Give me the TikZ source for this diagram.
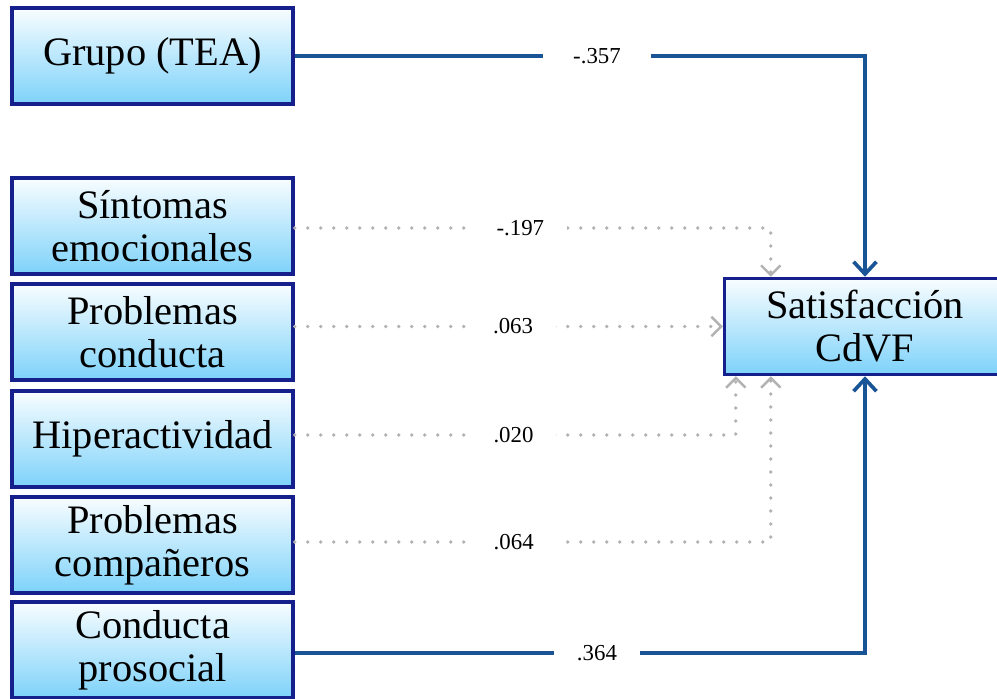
\documentclass[tikz,border=0pt]{standalone}
\usepackage{fontspec}
\setmainfont{Liberation Serif}
\usetikzlibrary{arrows.meta}

\definecolor{marco}{RGB}{22,32,140}
\definecolor{azul}{RGB}{24,84,150}
\definecolor{celeste}{RGB}{125,210,250}

\begin{document}
\begin{tikzpicture}[x=0.02cm,y=-0.02cm,
		caja/.style={draw=marco, line width=2pt, top color=white!95!celeste, bottom color=celeste,
			minimum width=5.62cm, minimum height=1.92cm, inner sep=0pt, align=center,
			font=\fontsize{23}{24.5}\selectfont},
		efecto/.style={draw=azul, line width=2.1pt, -{Straight Barb[length=7pt,width=13pt,line width=2.1pt]}},
		nosig/.style={draw=black!30, line width=2.2pt, line cap=round, dash pattern=on 0pt off 7.4pt,
			-{Straight Barb[length=5.5pt,width=11pt,line width=1.4pt]}},
		coef/.style={fill=white, text=black, inner xsep=13pt, inner ysep=2pt, font=\fontsize{13}{14}\selectfont}]
		
		\useasboundingbox (0,0) rectangle (997,699);
		
		%%% predictores
		\node[caja] (grupo) at (152.5,56) {Grupo (TEA)};
		\node[caja] (sintomas) at (152.5,226) {Síntomas\\emocionales};
		\node[caja] (conducta) at (152.5,332) {Problemas\\conducta};
		\node[caja] (hiper) at (152.5,439) {Hiperactividad};
		\node[caja] (companeros) at (152.5,545) {Problemas\\compañeros};
		\node[caja] (prosocial) at (152.5,650) {Conducta\\prosocial};
		
		%%% criterio
		\node[caja] (satisf) at (865,326.5) {Satisfacción\\CdVF};
		
		%%% efectos significativos
		\draw[efecto] (grupo.east) -| node[coef, pos=0.265, inner xsep=17pt] {-.357} (satisf.north);
		\draw[efecto] (prosocial.east |- 0,653) -| node[coef, pos=0.265] {.364} (satisf.south);
		
		%%% efectos no significativos
		\draw[nosig] (sintomas.east |- 0,228) -| node[coef, pos=0.237] {-.197} ([xshift=0.96cm]satisf.north west);
		\draw[nosig] (conducta.east |- satisf.west) -- node[coef, pos=0.51] {.063} (satisf.west);
		\draw[nosig] (hiper.east |- 0,435) -| node[coef, pos=0.248] {.020} ([xshift=0.26cm]satisf.south west);
		\draw[nosig] (companeros.east |- 0,542) -| node[coef, pos=0.23] {.064} ([xshift=0.96cm]satisf.south west);
		
	\end{tikzpicture}
\end{document}
